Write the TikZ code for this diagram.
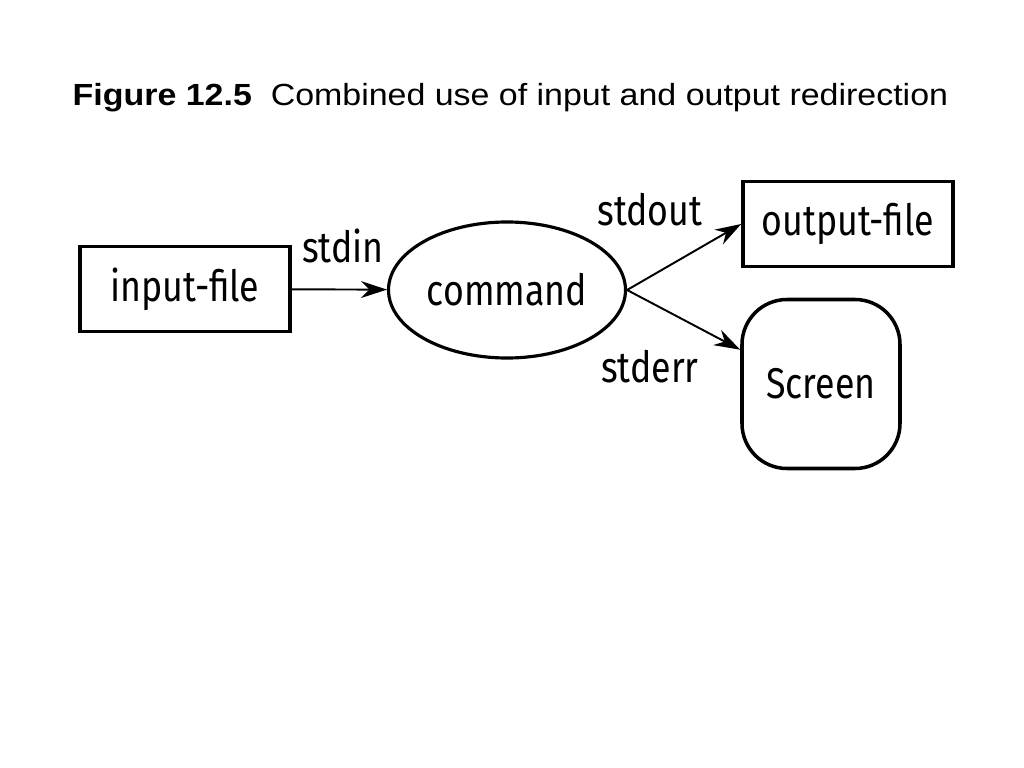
\documentclass[tikz,border=0pt]{standalone}
\usepackage{fontspec}
\setmainfont{Liberation Sans}
\newfontfamily\titlefont{Liberation Sans}[FakeStretch=1.11]
\newfontfamily\firafont{Fira Sans}[FakeStretch=0.83]
\usetikzlibrary{shapes.geometric}
\usetikzlibrary{arrows.meta}
\usetikzlibrary{positioning}

\begin{document}
\begin{tikzpicture}[
  thick,
  font=\firafont\fontsize{24.5}{29}\selectfont
]
\tikzset{
    filebox/.style = {rectangle, draw=black, line width=2pt, minimum width=4.2cm, minimum height=1.7cm},
    cmdnode/.style = {ellipse, draw=black, line width=1.8pt, minimum width=4.74cm, minimum height=2.72cm, inner sep=0pt},
    screenbox/.style = {rectangle, rounded corners=0.9cm, draw=black, line width=2pt, minimum width=3.16cm, minimum height=3.38cm},
    stream/.style = {-{Stealth[length=0.52cm,width=0.34cm]}, line width=1.1pt},
    streamlbl/.style = {inner sep=0pt},
}
\useasboundingbox (0,0) rectangle (20.48,-15.36);
\node[anchor=base west, inner sep=0pt, font=\titlefont\fontsize{17.4}{20}\selectfont] (title) at (1.44,-2.12)
  {\textbf{Figure 12.5}\ \ Combined use of input and output redirection};
% the boxes
\node[filebox] (infile) at (3.70,-5.78) {input-file};
\node[cmdnode] (cmd) at (10.14,-5.80) {command};
\node[filebox] (outfile) at (16.96,-4.48) {output-file};
\node[screenbox] (screen) at (16.42,-7.68) {Screen};
% the streams
\draw[stream] (infile) -- (cmd);
\draw[stream] (cmd.east) -- (outfile.west);
\draw[stream] (cmd.east) -- (screen.157);
\node[streamlbl] (stdinlbl) at (6.86,-4.92) {stdin};
\node[streamlbl] (stdoutlbl) at (13.0,-4.20) {stdout};
\node[streamlbl] (stderrlbl) at (13.0,-7.34) {stderr};
\end{tikzpicture}
\end{document}
